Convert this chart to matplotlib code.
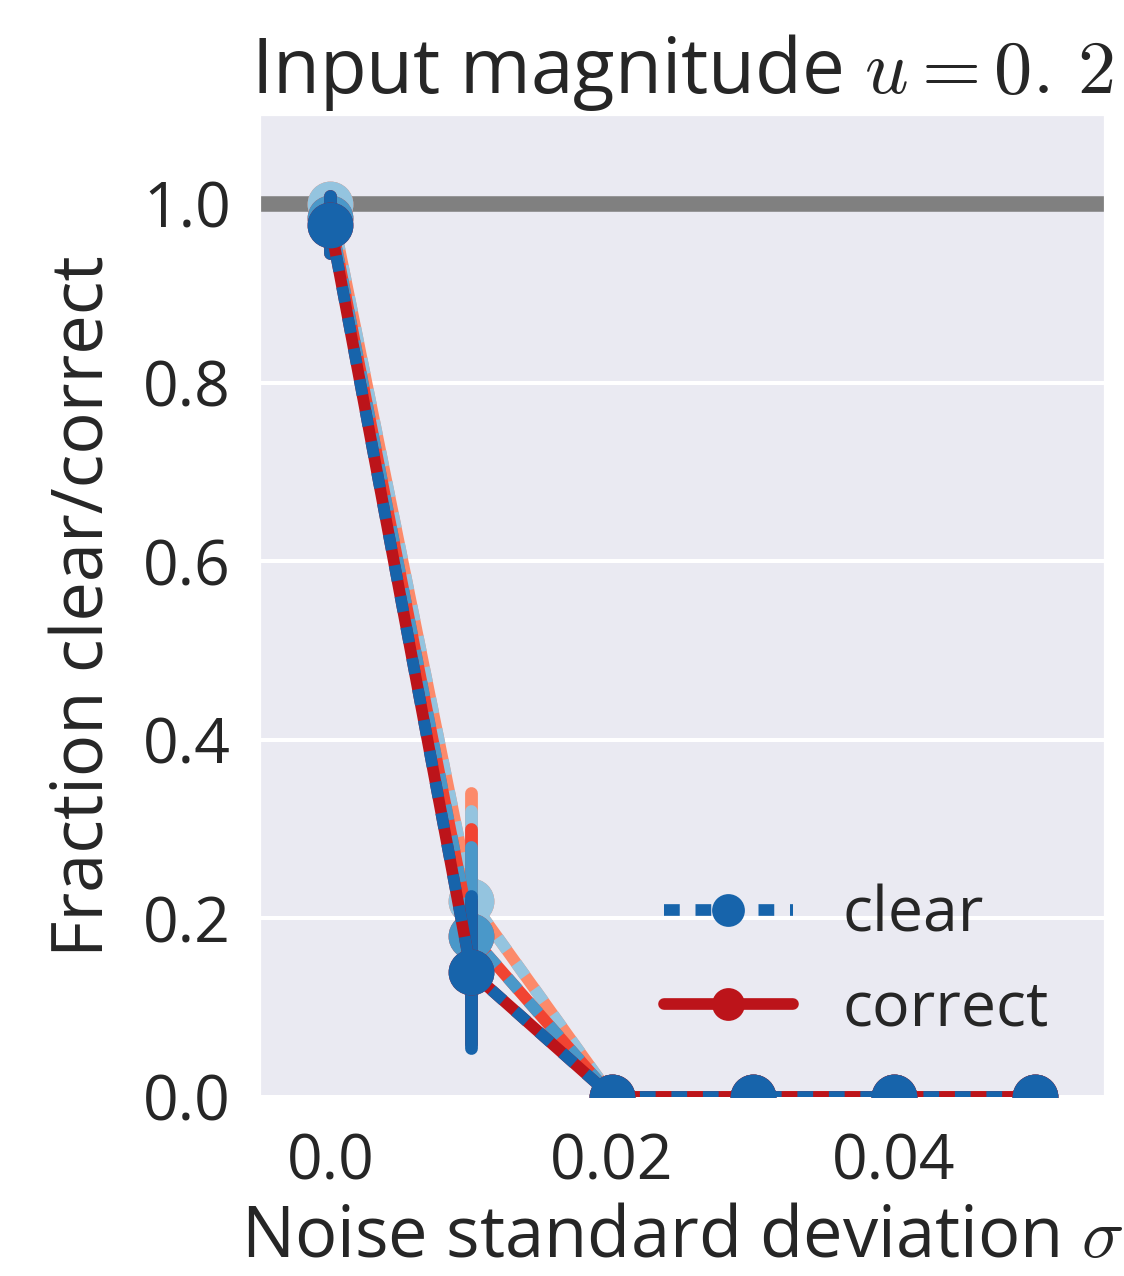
import numpy as np
import matplotlib
matplotlib.use("Agg")
import matplotlib.pyplot as plt
import seaborn as sns
from matplotlib.lines import Line2D

sns.set_style("darkgrid")
plt.rcParams["font.family"] = ["Open Sans", "DejaVu Sans"]
plt.rcParams["mathtext.fontset"] = "cm"
plt.rcParams["text.color"] = ".15"
plt.rcParams["axes.labelcolor"] = ".15"
plt.rcParams["xtick.color"] = ".15"
plt.rcParams["ytick.color"] = ".15"

# noise levels
sigma = [0.0, 0.01, 0.02, 0.03, 0.04, 0.05]

# three conditions, light -> dark
clear_mean = [
    [1.0, 0.22, 0.0, 0.0, 0.0, 0.0],
    [0.985, 0.18, 0.0, 0.0, 0.0, 0.0],
    [0.977, 0.14, 0.0, 0.0, 0.0, 0.0],
]
clear_err = [
    [0.0, 0.10, 0.0, 0.0, 0.0, 0.0],
    [0.02, 0.10, 0.0, 0.0, 0.0, 0.0],
    [0.032, 0.085, 0.0, 0.0, 0.0, 0.0],
]
correct_mean = [
    [1.0, 0.22, 0.0, 0.0, 0.0, 0.0],
    [0.985, 0.18, 0.0, 0.0, 0.0, 0.0],
    [0.977, 0.14, 0.0, 0.0, 0.0, 0.0],
]
correct_err = [
    [0.0, 0.12, 0.0, 0.0, 0.0, 0.0],
    [0.02, 0.12, 0.0, 0.0, 0.0, 0.0],
    [0.032, 0.08, 0.0, 0.0, 0.0, 0.0],
]
shades = [0.4, 0.6, 0.8]

LW = 4.2
MS = 15.5
DASH = (1.35, 1.35)

fig = plt.figure(figsize=(5.62, 6.38), dpi=200)
ax = fig.add_axes([0.2313, 0.1403, 0.7518, 0.7696])

ax.axhline(1.0, color="0.5", lw=5.6, zorder=1)

for i, s in enumerate(shades):
    blue = plt.cm.Blues(s)
    red = plt.cm.Reds(s)
    for mean, err, col, ls in [
        (correct_mean[i], correct_err[i], red, "-"),
        (clear_mean[i], clear_err[i], blue, (0, DASH)),
    ]:
        line, caps, bars = ax.errorbar(sigma, mean, yerr=err, color=col, lw=LW,
                                       elinewidth=4.6, capsize=0, marker="o",
                                       ms=MS, ls=ls, zorder=2 + i)
        line.set_dash_capstyle("butt")
        for b in bars:
            b.set_capstyle("round")

ax.set_xlim(-0.005, 0.055)
ax.set_ylim(0, 1.1)
ax.set_xticks([0.0, 0.02, 0.04])
ax.set_xticklabels(["0.0", "0.02", "0.04"])
ax.set_yticks([0.0, 0.2, 0.4, 0.6, 0.8, 1.0])
ax.set_yticklabels(["0.0", "0.2", "0.4", "0.6", "0.8", "1.0"])
ax.grid(True, axis="y", color="white", lw=1.45)
ax.grid(False, axis="x")
ax.tick_params(labelsize=22.5, length=0)
ax.tick_params(axis="x", pad=12.5)
ax.tick_params(axis="y", pad=10.5)

ax.set_xlabel(r"Noise standard deviation $\sigma$", fontsize=25.4, labelpad=3)
ax.set_ylabel("Fraction clear/correct", fontsize=25.4, labelpad=8)
ax.set_title(r"Input magnitude $u=0.\,2$", fontsize=27.5, pad=8)

handles = [
    Line2D([], [], color=plt.cm.Blues(0.8), lw=LW, ls=(0, DASH), marker="o", ms=10.8),
    Line2D([], [], color=plt.cm.Reds(0.8), lw=LW, marker="o", ms=10.8, solid_capstyle="round"),
]
ax.legend(handles, ["clear", "correct"], loc="lower right", frameon=False,
          fontsize=22.5, handlelength=2.05, labelspacing=0.5)

fig.savefig("out.png", dpi=200)
